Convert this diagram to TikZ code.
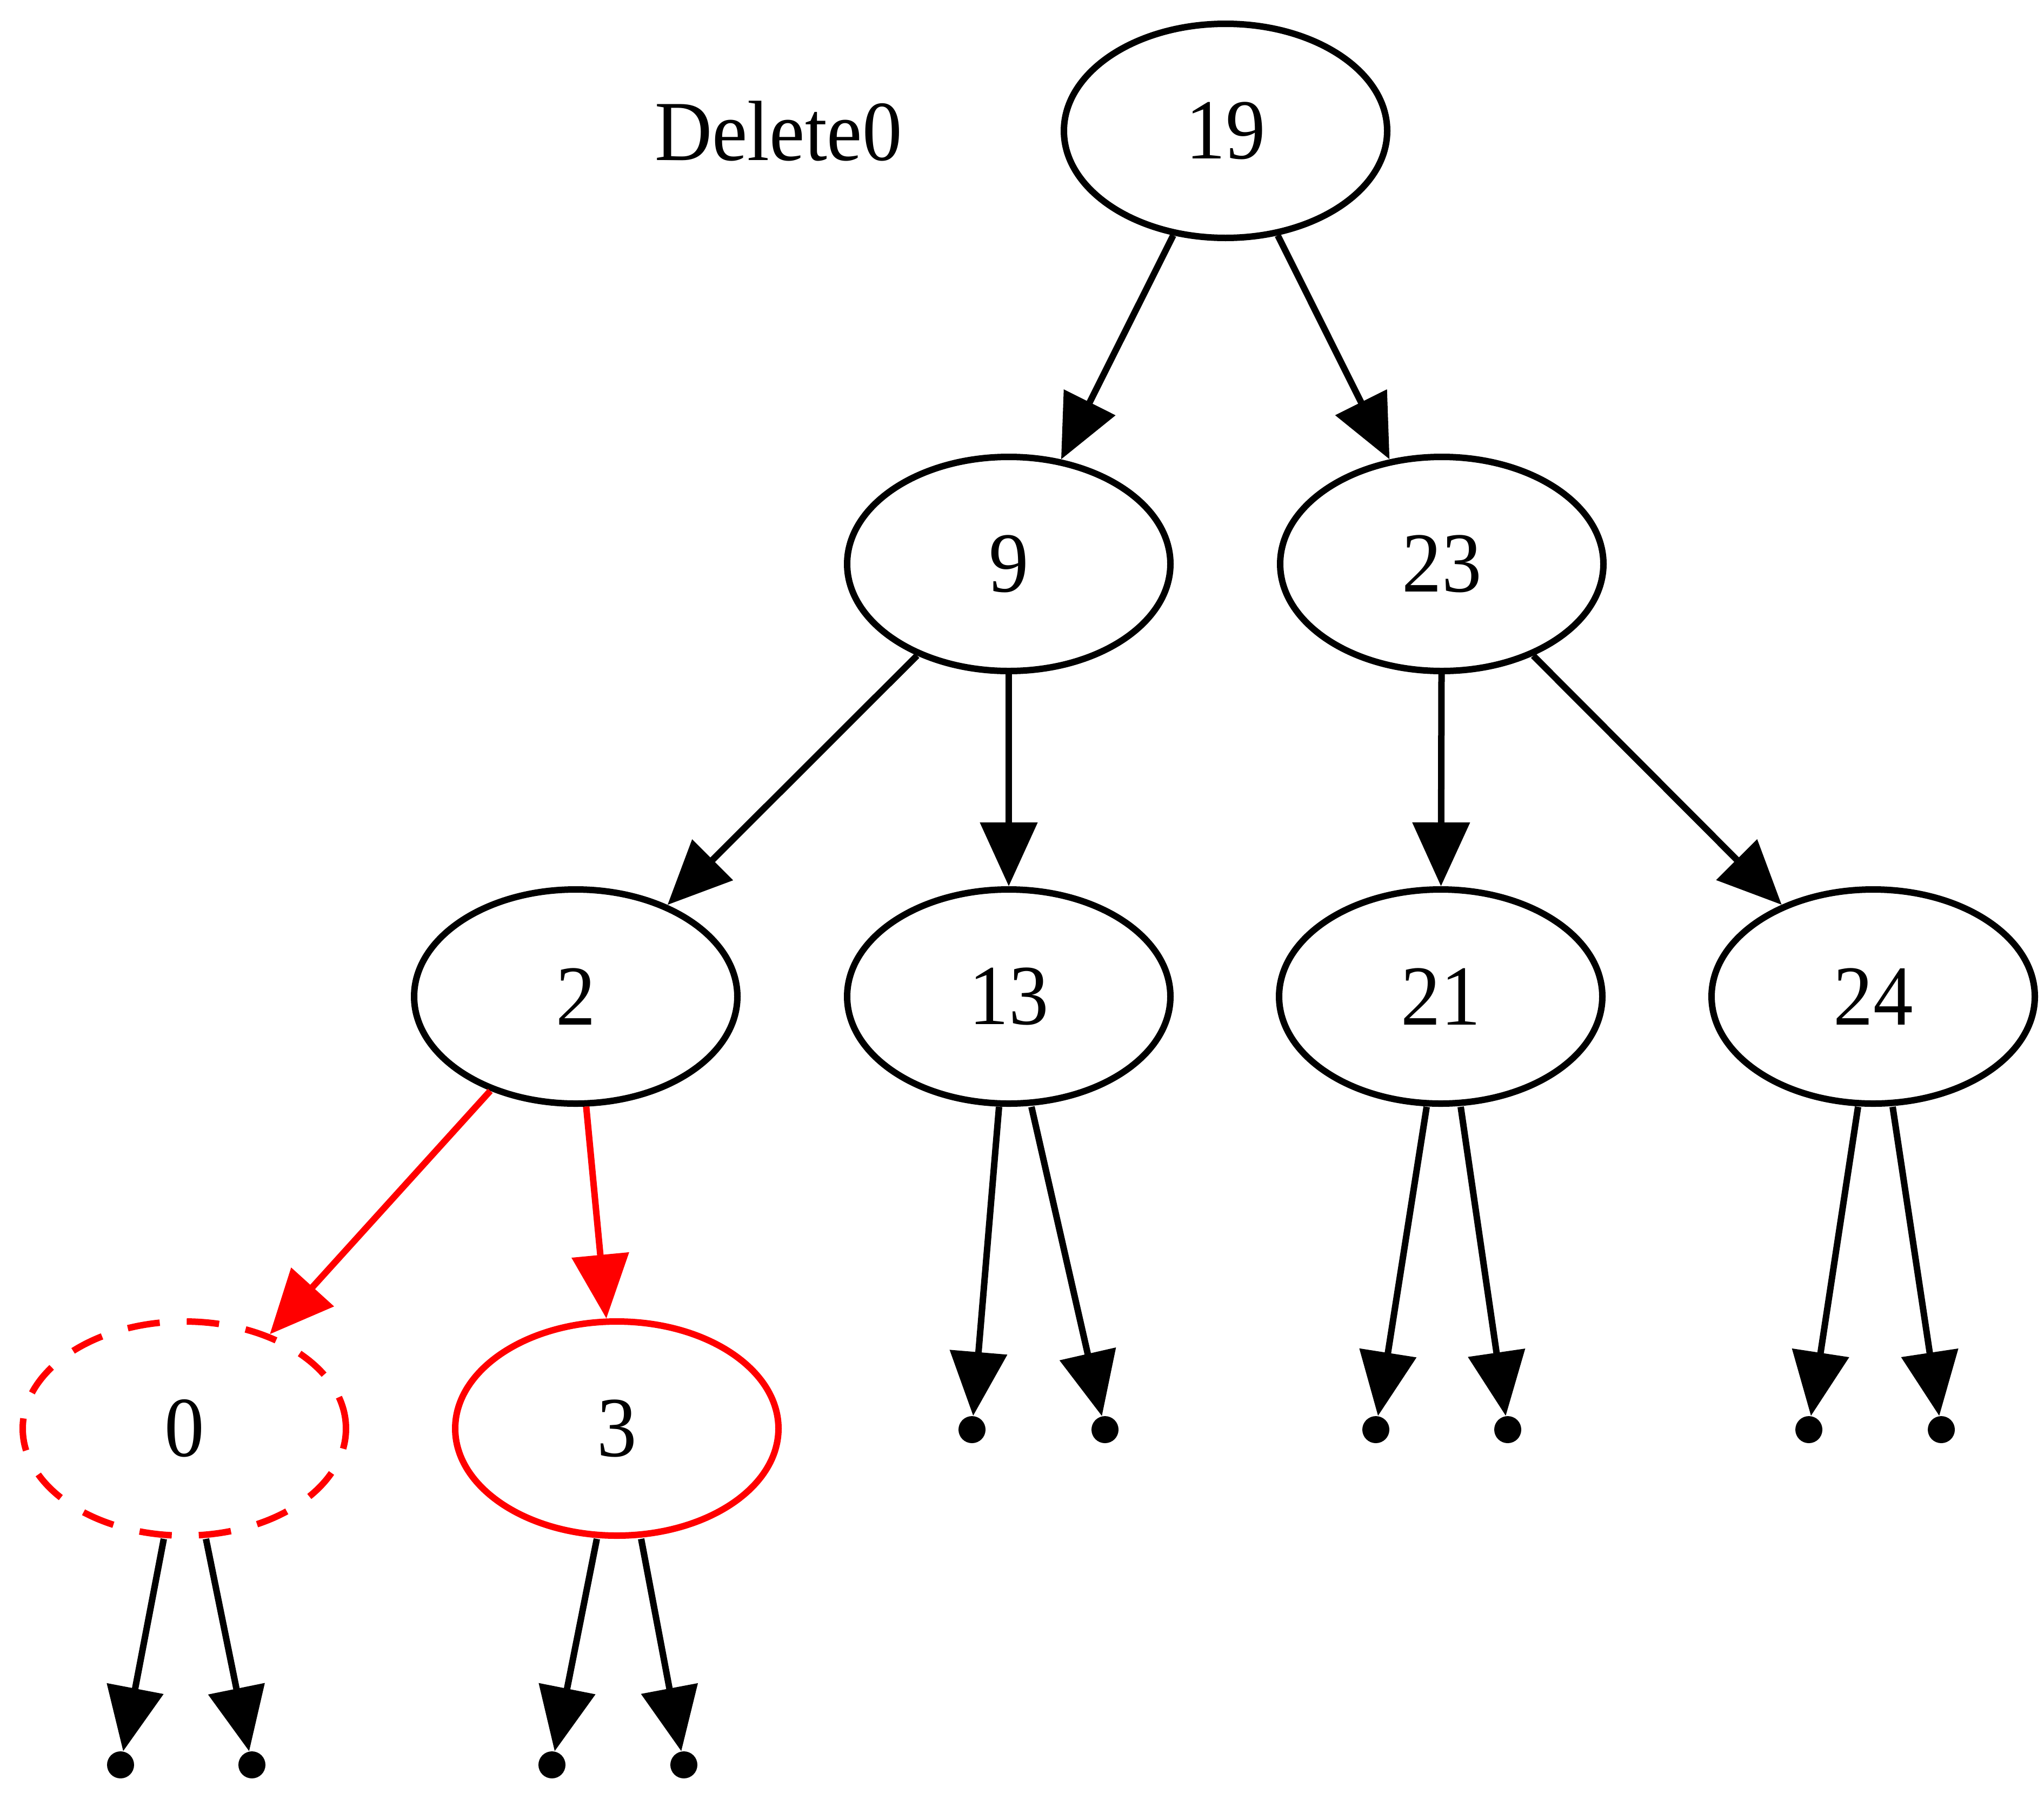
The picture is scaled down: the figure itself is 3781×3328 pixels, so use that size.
\documentclass[tikz,border=0pt]{standalone}
\usepackage{fontspec}
\setmainfont{Liberation Serif}[FakeStretch=0.93]
\usetikzlibrary{shapes.geometric,arrows.meta}
\begin{document}
\begin{tikzpicture}[x=0.1mm,y=-0.1mm,
  tnode/.style={ellipse,draw,line width=1.2mm,minimum width=59.8mm,minimum height=39.6mm,inner sep=0pt,font=\fontsize{45}{50}\selectfont},
  lbltext/.style={font=\fontsize{45}{50}\selectfont},
  redtnode/.style={tnode,draw=red},
  delnode/.style={tnode,draw=red,dash pattern=on 6mm off 5mm},
  leafdot/.style={circle,fill=black,draw=none,inner sep=0pt,minimum size=5mm},
  link/.style={draw,line width=1.2mm,-{Triangle[length=11.8mm,width=10.4mm]}},
  redlink/.style={link,draw=red,fill=red},
]
\useasboundingbox (0,0) rectangle (3781,3328);

\node[lbltext] (lbl) at (1440,242) {Delete0};
\node[tnode] (n19) at (2267,242) {19};
\node[tnode] (n9) at (1866,1043) {9};
\node[tnode] (n23) at (2667,1043) {23};
\node[tnode] (n2) at (1065,1843) {2};
\node[tnode] (n13) at (1866,1843) {13};
\node[tnode] (n21) at (2665,1843) {21};
\node[tnode] (n24) at (3465,1843) {24};
\node[delnode] (n0) at (341,2642) {0};
\node[redtnode] (n3) at (1141,2642) {3};

\node[leafdot] (a1) at (1798,2644) {};
\node[leafdot] (a2) at (2044,2644) {};
\node[leafdot] (b1) at (2545,2644) {};
\node[leafdot] (b2) at (2789,2644) {};
\node[leafdot] (c1) at (3346,2644) {};
\node[leafdot] (c2) at (3591,2644) {};
\node[leafdot] (d1) at (223,3264) {};
\node[leafdot] (d2) at (466,3264) {};
\node[leafdot] (e1) at (1021,3264) {};
\node[leafdot] (e2) at (1265,3264) {};

\draw[link] (n19) -- (n9);
\draw[link] (n19) -- (n23);
\draw[link] (n9) -- (n2);
\draw[link] (n9) -- (n13);
\draw[link] (n23) -- (n21);
\draw[link] (n23) -- (n24);
\draw[redlink] (n2) -- (n0);
\draw[redlink] (n2) -- (n3);

\draw[link] ([xshift=-1.8mm]n13.south) -- (a1);
\draw[link] ([xshift=4.2mm]n13.south) -- (a2);
\draw[link] ([xshift=-2.6mm]n21.south) -- (b1);
\draw[link] ([xshift=3.7mm]n21.south) -- (b2);
\draw[link] ([xshift=-2.8mm]n24.south) -- (c1);
\draw[link] ([xshift=3.6mm]n24.south) -- (c2);
\draw[link] ([xshift=-3.8mm]n0.south) -- (d1);
\draw[link] ([xshift=4mm]n0.south) -- (d2);
\draw[link] ([xshift=-3.7mm]n3.south) -- (e1);
\draw[link] ([xshift=4.5mm]n3.south) -- (e2);
\end{tikzpicture}
\end{document}
